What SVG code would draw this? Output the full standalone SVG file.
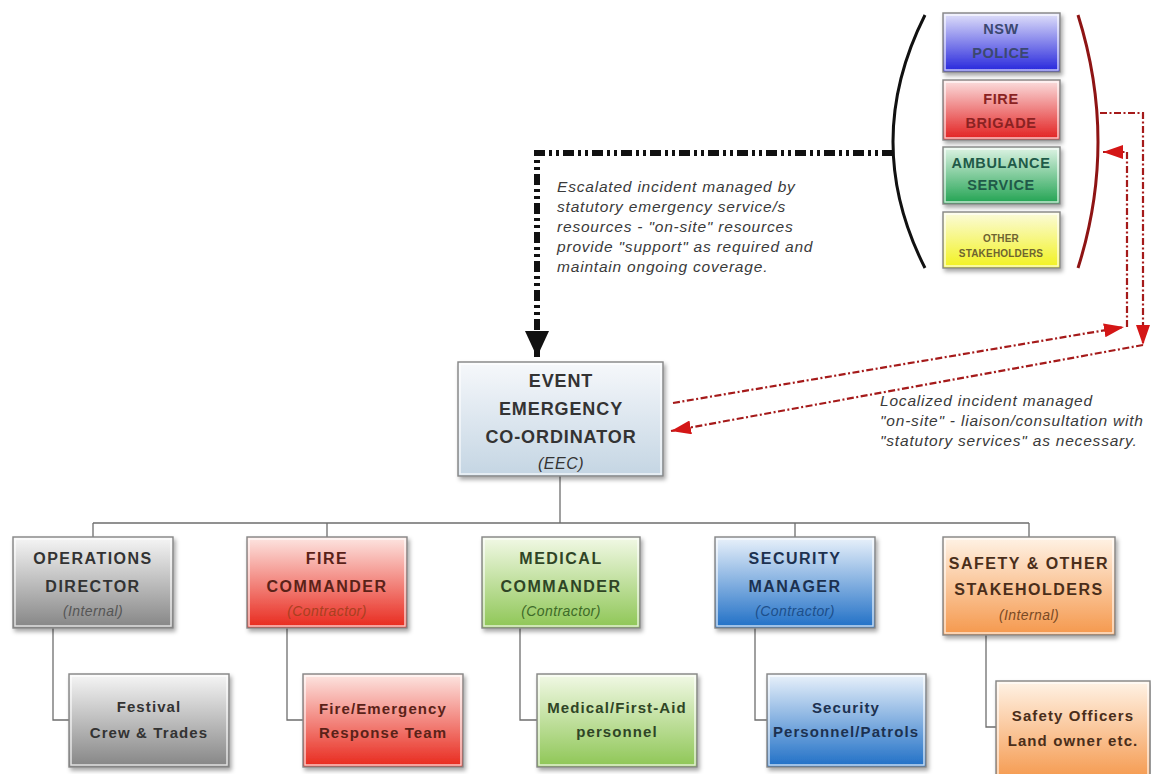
<svg xmlns="http://www.w3.org/2000/svg" width="1151" height="774" viewBox="0 0 1151 774">
<style>
.box{stroke:#858585;stroke-width:1.4}
.inner{fill:none;stroke:#ffffff;stroke-opacity:0.75;stroke-width:1.5}
.h{font-family:"Liberation Sans",Arial,sans-serif;font-weight:bold;font-size:16px;letter-spacing:1.5px;text-anchor:middle}
.eec{font-family:"Liberation Sans",Arial,sans-serif;font-weight:bold;font-size:18px;letter-spacing:0.9px;text-anchor:middle;fill:#333}
.sub{font-family:"Liberation Sans",Arial,sans-serif;font-style:italic;font-size:14px;letter-spacing:0.4px;text-anchor:middle}
.b{font-family:"Liberation Sans",Arial,sans-serif;font-weight:bold;font-size:15px;letter-spacing:1.1px;text-anchor:middle}
.tr{font-family:"Liberation Sans",Arial,sans-serif;font-weight:bold;font-size:14.5px;letter-spacing:0.6px;text-anchor:middle}
.note{font-family:"Liberation Sans",Arial,sans-serif;font-style:italic;font-size:15.5px;letter-spacing:0.8px;fill:#3a3a3a}
.tree{fill:none;stroke:#6e6e6e;stroke-width:1.3}
.red{fill:none;stroke:#a51a1a;stroke-width:2.2;stroke-dasharray:7 2.5 2 2.5}
</style>
<defs>
<filter id="sh" x="-10%" y="-10%" width="125%" height="130%">
<feDropShadow dx="2" dy="3" stdDeviation="2" flood-color="#000" flood-opacity="0.35"/>
</filter>
<linearGradient id="gGray" x1="0" y1="0" x2="0" y2="1"><stop offset="0" stop-color="#f6f6f6"/><stop offset="1" stop-color="#858585"/></linearGradient>
<linearGradient id="gRed" x1="0" y1="0" x2="0" y2="1"><stop offset="0" stop-color="#fde6e2"/><stop offset="1" stop-color="#e8281c"/></linearGradient>
<linearGradient id="gGreen" x1="0" y1="0" x2="0" y2="1"><stop offset="0" stop-color="#f2f9e6"/><stop offset="1" stop-color="#8ec655"/></linearGradient>
<linearGradient id="gBlue" x1="0" y1="0" x2="0" y2="1"><stop offset="0" stop-color="#eaf2fb"/><stop offset="1" stop-color="#1f6fc6"/></linearGradient>
<linearGradient id="gOrange" x1="0" y1="0" x2="0" y2="1"><stop offset="0" stop-color="#fff3e6"/><stop offset="1" stop-color="#f5984c"/></linearGradient>
<linearGradient id="gEEC" x1="0" y1="0" x2="0" y2="1"><stop offset="0" stop-color="#f6f8fb"/><stop offset="1" stop-color="#c4d5e3"/></linearGradient>
<linearGradient id="gPol" x1="0" y1="0" x2="0" y2="1"><stop offset="0" stop-color="#e2e2fa"/><stop offset="1" stop-color="#2424dc"/></linearGradient>
<linearGradient id="gFB" x1="0" y1="0" x2="0" y2="1"><stop offset="0" stop-color="#fbe0e0"/><stop offset="1" stop-color="#e21e1e"/></linearGradient>
<linearGradient id="gAmb" x1="0" y1="0" x2="0" y2="1"><stop offset="0" stop-color="#e0f4e6"/><stop offset="1" stop-color="#1fa250"/></linearGradient>
<linearGradient id="gOth" x1="0" y1="0" x2="0" y2="1"><stop offset="0" stop-color="#fbfbdc"/><stop offset="1" stop-color="#f2f21e"/></linearGradient>
<marker id="ab" markerUnits="userSpaceOnUse" markerWidth="26" markerHeight="24" viewBox="0 0 26 24" refX="26" refY="12" orient="auto"><path d="M0 0 L26 12 L0 24 z" fill="#111"/></marker>
<marker id="ar" markerUnits="userSpaceOnUse" markerWidth="20" markerHeight="14" viewBox="0 0 20 14" refX="20" refY="7" orient="auto"><path d="M0 0 L20 7 L0 14 z" fill="#d41616"/></marker>
</defs>
<rect width="1151" height="774" fill="#ffffff"/>

<g id="connectors">
<path class="tree" d="M560 476 V523 M93 523 H1029 M93 523 V537 M327 523 V537 M795 523 V537 M1029 523 V537"/>
<path class="tree" d="M53 628 V720 H69 M287 628 V720 H303 M520 628 V720 H537 M755 628 V720 H767 M986 635 V727 H996"/>
<path d="M893 153 H537 V357" fill="none" stroke="#111" stroke-width="6" stroke-dasharray="11 4 3 4 3 4" marker-end="url(#ab)"/>
<path d="M925 15 Q861 142 925 268" fill="none" stroke="#111" stroke-width="3"/>
<path d="M1078 15 Q1118 142 1078 268" fill="none" stroke="#8e1414" stroke-width="3"/>
<path class="red" d="M1100 113 H1143 V345" marker-end="url(#ar)"/>
<path class="red" d="M1143 345 L671 431" marker-end="url(#ar)"/>
<path class="red" d="M673 403 L1124 327" marker-end="url(#ar)"/>
<path class="red" d="M1127 327 V152 H1103" marker-end="url(#ar)"/>
</g>

<g id="nsw-police">
<rect class="box" x="943" y="13" width="117" height="59" fill="url(#gPol)" filter="url(#sh)"/>
<rect class="inner" x="945" y="15" width="113" height="55"/>
<text class="tr" x="1001" y="34" fill="#3b4870">NSW</text>
<text class="tr" x="1001" y="58" fill="#3b4870">POLICE</text>
</g>
<g id="fire-brigade">
<rect class="box" x="943" y="80" width="117" height="60" fill="url(#gFB)" filter="url(#sh)"/>
<rect class="inner" x="945" y="82" width="113" height="56"/>
<text class="tr" x="1001" y="104" fill="#8a2222">FIRE</text>
<text class="tr" x="1001" y="128" fill="#8a2222">BRIGADE</text>
</g>
<g id="ambulance">
<rect class="box" x="943" y="147" width="117" height="57" fill="url(#gAmb)" filter="url(#sh)"/>
<rect class="inner" x="945" y="149" width="113" height="53"/>
<text class="tr" x="1001" y="168" fill="#1f5a48">AMBULANCE</text>
<text class="tr" x="1001" y="190" fill="#1f5a48">SERVICE</text>
</g>
<g id="other-stakeholders">
<rect class="box" x="943" y="212" width="117" height="56" fill="url(#gOth)" filter="url(#sh)"/>
<rect class="inner" x="945" y="214" width="113" height="52"/>
<text class="tr" x="1001" y="242" fill="#6e6430" style="font-size:10px;letter-spacing:0.2px">OTHER</text>
<text class="tr" x="1001" y="257" fill="#6e6430" style="font-size:10px;letter-spacing:0.2px">STAKEHOLDERS</text>
</g>

<g id="escalated-note">
<text class="note" x="557" y="192">Escalated incident managed by</text>
<text class="note" x="557" y="212">statutory emergency service/s</text>
<text class="note" x="557" y="232">resources - "on-site" resources</text>
<text class="note" x="557" y="252">provide "support" as required and</text>
<text class="note" x="557" y="272">maintain ongoing coverage.</text>
</g>

<g id="localized-note">
<text class="note" x="880" y="406">Localized incident managed</text>
<text class="note" x="880" y="426">"on-site" - liaison/consultation with</text>
<text class="note" x="880" y="446">"statutory services" as necessary.</text>
</g>

<g id="eec">
<rect class="box" x="458" y="362" width="205" height="114" fill="url(#gEEC)" filter="url(#sh)"/>
<rect class="inner" x="460" y="364" width="201" height="110"/>
<text class="eec" x="561" y="387">EVENT</text>
<text class="eec" x="561" y="415">EMERGENCY</text>
<text class="eec" x="561" y="443">CO-ORDINATOR</text>
<text class="eec" x="561" y="469" style="font-weight:normal;font-style:italic;font-size:16px;letter-spacing:0.5px">(EEC)</text>
</g>

<g id="operations-director">
<rect class="box" x="13" y="537" width="160" height="91" fill="url(#gGray)" filter="url(#sh)"/>
<rect class="inner" x="15" y="539" width="156" height="87"/>
<text class="h" x="93" y="564" fill="#333">OPERATIONS</text>
<text class="h" x="93" y="592" fill="#333">DIRECTOR</text>
<text class="sub" x="93" y="616" fill="#555">(Internal)</text>
</g>
<g id="fire-commander">
<rect class="box" x="247" y="537" width="160" height="91" fill="url(#gRed)" filter="url(#sh)"/>
<rect class="inner" x="249" y="539" width="156" height="87"/>
<text class="h" x="327" y="564" fill="#5a2218">FIRE</text>
<text class="h" x="327" y="592" fill="#5a2218">COMMANDER</text>
<text class="sub" x="327" y="616" fill="#a8401f">(Contractor)</text>
</g>
<g id="medical-commander">
<rect class="box" x="482" y="537" width="158" height="91" fill="url(#gGreen)" filter="url(#sh)"/>
<rect class="inner" x="484" y="539" width="154" height="87"/>
<text class="h" x="561" y="564" fill="#2f4526">MEDICAL</text>
<text class="h" x="561" y="592" fill="#2f4526">COMMANDER</text>
<text class="sub" x="561" y="616" fill="#3d6a28">(Contractor)</text>
</g>
<g id="security-manager">
<rect class="box" x="715" y="537" width="160" height="91" fill="url(#gBlue)" filter="url(#sh)"/>
<rect class="inner" x="717" y="539" width="156" height="87"/>
<text class="h" x="795" y="564" fill="#1c3150">SECURITY</text>
<text class="h" x="795" y="592" fill="#1c3150">MANAGER</text>
<text class="sub" x="795" y="616" fill="#1d4f8a">(Contractor)</text>
</g>
<g id="safety-other">
<rect class="box" x="943" y="537" width="172" height="98" fill="url(#gOrange)" filter="url(#sh)"/>
<rect class="inner" x="945" y="539" width="168" height="94"/>
<text class="h" x="1029" y="569" fill="#4a2e1a">SAFETY &amp; OTHER</text>
<text class="h" x="1029" y="595" fill="#4a2e1a">STAKEHOLDERS</text>
<text class="sub" x="1029" y="620" fill="#7a4a24">(Internal)</text>
</g>

<g id="festival-crew">
<rect class="box" x="69" y="674" width="160" height="93" fill="url(#gGray)" filter="url(#sh)"/>
<rect class="inner" x="71" y="676" width="156" height="89"/>
<text class="b" x="149" y="712" fill="#333">Festival</text>
<text class="b" x="149" y="738" fill="#333">Crew &amp; Trades</text>
</g>
<g id="fire-team">
<rect class="box" x="303" y="674" width="160" height="93" fill="url(#gRed)" filter="url(#sh)"/>
<rect class="inner" x="305" y="676" width="156" height="89"/>
<text class="b" x="383" y="714" fill="#5a2218">Fire/Emergency</text>
<text class="b" x="383" y="738" fill="#5a2218">Response Team</text>
</g>
<g id="medical-personnel">
<rect class="box" x="537" y="674" width="160" height="93" fill="url(#gGreen)" filter="url(#sh)"/>
<rect class="inner" x="539" y="676" width="156" height="89"/>
<text class="b" x="617" y="713" fill="#2f4526">Medical/First-Aid</text>
<text class="b" x="617" y="737" fill="#2f4526">personnel</text>
</g>
<g id="security-personnel">
<rect class="box" x="767" y="674" width="159" height="93" fill="url(#gBlue)" filter="url(#sh)"/>
<rect class="inner" x="769" y="676" width="155" height="89"/>
<text class="b" x="846" y="713" fill="#1c3150">Security</text>
<text class="b" x="846" y="737" fill="#1c3150">Personnel/Patrols</text>
</g>
<g id="safety-officers">
<rect class="box" x="996" y="681" width="154" height="100" fill="url(#gOrange)" filter="url(#sh)"/>
<rect class="inner" x="998" y="683" width="150" height="96"/>
<text class="b" x="1073" y="721" fill="#4a2e1a">Safety Officers</text>
<text class="b" x="1073" y="746" fill="#4a2e1a">Land owner etc.</text>
</g>
</svg>
